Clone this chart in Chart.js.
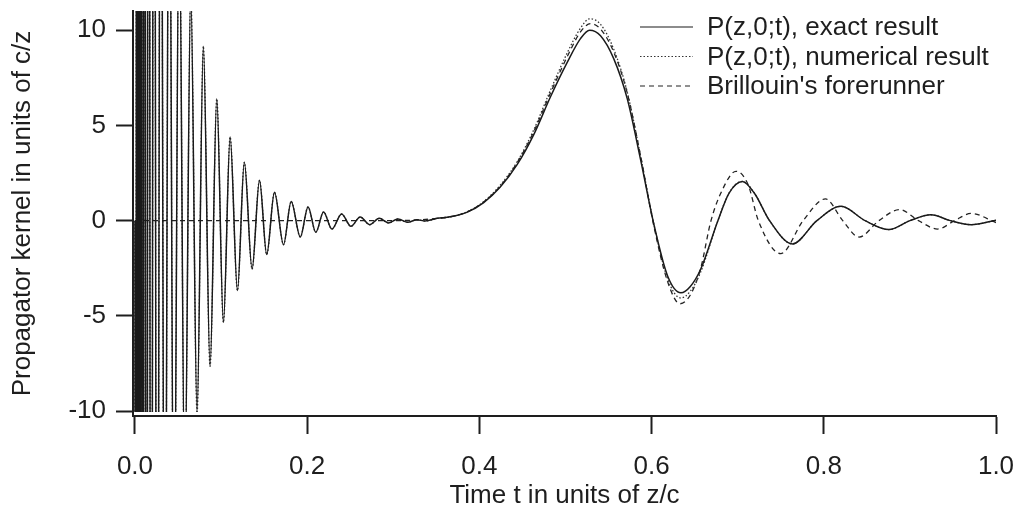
<!DOCTYPE html>
<html>
<head>
<meta charset="utf-8">
<script src="https://cdn.jsdelivr.net/npm/chart.js@4.4.0/dist/chart.umd.min.js"></script>
<style>
  html, body { margin: 0; padding: 0; background: #fff; }
  #wrap { width: 1018px; height: 509px; }
</style>
</head>
<body>
<div id="wrap"><canvas id="chart" width="1018" height="509"></canvas></div>
<script>
// Sommerfeld precursor (early part runs off scale)
const precursorT = [0, 0.00093, 0.00198, 0.00314, 0.00442, 0.00581, 0.00733, 0.00907, 0.01105, 0.01326,
  0.01581, 0.01872, 0.02198, 0.0257, 0.02988, 0.03453, 0.03965, 0.04523, 0.05128, 0.05779,
  0.06477, 0.07209, 0.0794, 0.0872, 0.095, 0.1027, 0.1105, 0.119, 0.127, 0.136,
  0.1446, 0.153, 0.162, 0.1725, 0.1814, 0.192, 0.201, 0.21, 0.219, 0.2287,
  0.240, 0.2508, 0.2616, 0.2725, 0.2837, 0.2946, 0.3055, 0.3167, 0.3275, 0.337];
const precursorP = [0, -150, 150, -140, 130, -120, 110, -98, 85, -73,
  63, -54, 46, -39, 33, -28, 24, -20, 17, -14.3,
  12, -10.1, 9.15, -7.65, 6.39, -5.34, 4.39, -3.67, 3.06, -2.54,
  2.12, -1.78, 1.49, -1.26, 1.01, -0.86, 0.72, -0.61, 0.46, -0.44,
  0.35, -0.3, 0.19, -0.21, 0.12, -0.12, 0.09, -0.09, 0.05, -0.02];

// main pulse and later ringing
const pulseT = [0.351, 0.366, 0.386, 0.405, 0.424, 0.444, 0.463, 0.4826, 0.502, 0.5174,
  0.528, 0.5407, 0.556, 0.5717, 0.5872, 0.6027, 0.6186, 0.634, 0.645, 0.657,
  0.677, 0.69, 0.7055, 0.72, 0.737, 0.7636, 0.792, 0.82, 0.848, 0.8756,
  0.9, 0.9244, 0.947, 0.971, 1.0];
const pulseExact = [0.12, 0.2, 0.45, 0.95, 1.75, 2.95, 4.5, 6.5, 8.3, 9.55,
  9.99, 9.7, 8.5, 6.4, 3.2, -0.2, -2.9, -3.78, -3.45, -2.55,
  0, 1.45, 2.06, 1.4, 0, -1.22, 0, 0.75, 0, -0.47,
  0, 0.31, 0, -0.21, 0.02];
const pulseNumerical = [0.12, 0.2, 0.47, 1.0, 1.85, 3.1, 4.75, 6.85, 8.8, 10.1,
  10.59, 10.3, 9.0, 6.75, 3.4, -0.2, -3.05, -4.06, -3.7, -2.7,
  0, 1.45, 2.06, 1.4, 0, -1.22, 0, 0.75, 0, -0.47,
  0, 0.31, 0, -0.21, 0.02];

// Brillouin's forerunner
const forerunnerT = [0, 0.1, 0.2, 0.3, 0.33, 0.351, 0.366, 0.386, 0.405, 0.424,
  0.444, 0.463, 0.4826, 0.502, 0.5174, 0.529, 0.5407, 0.556, 0.5717, 0.5872,
  0.6027, 0.6186, 0.633, 0.645, 0.657, 0.669, 0.682, 0.698, 0.712, 0.724,
  0.75, 0.776, 0.802, 0.822, 0.841, 0.864, 0.888, 0.91, 0.932, 0.952,
  0.971, 1.0];
const forerunnerP = [0, 0, 0, 0, 0.04, 0.12, 0.2, 0.46, 0.98, 1.8,
  3.05, 4.65, 6.7, 8.6, 9.9, 10.34, 10.05, 8.85, 6.7, 3.4,
  -0.3, -3.2, -4.36, -3.9, -2.5, 0, 1.6, 2.59, 1.9, 0,
  -1.73, 0, 1.14, 0, -0.86, 0, 0.58, 0, -0.44, 0,
  0.38, -0.1];

const xTicks = [0, 0.2, 0.4, 0.6, 0.8, 1.0];
const yTicks = [-10, -5, 0, 5, 10];

function pts(ts, vs) { return ts.map((t, i) => ({ x: t, y: vs[i] })); }

const exactData = pts(precursorT.concat(pulseT), precursorP.concat(pulseExact));
const numericalData = pts(precursorT.concat(pulseT), precursorP.concat(pulseNumerical));
const forerunnerData = pts(forerunnerT, forerunnerP);

const FONT = "'Liberation Sans', Arial, Helvetica, sans-serif";
const INK = '#1e1e1e';
const lineClip = { left: 0, top: 0, right: 0, bottom: -4 };

const legendPlugin = {
  id: 'innerLegend',
  afterDraw(chart) {
    const ctx = chart.ctx;
    ctx.save();
    ctx.font = '26px ' + FONT;
    ctx.fillStyle = INK;
    ctx.textBaseline = 'middle';
    chart.data.datasets.forEach((ds, i) => {
      const y = 27 + i * 29.5;
      ctx.strokeStyle = ds.borderColor;
      ctx.lineWidth = 1.2;
      ctx.setLineDash(ds.borderDash || []);
      ctx.beginPath();
      ctx.moveTo(640, y);
      ctx.lineTo(693, y);
      ctx.stroke();
      ctx.setLineDash([]);
      ctx.fillText(ds.label, 707, y + 1);
    });
    ctx.restore();
  }
};

const chartCtx = document.getElementById('chart').getContext('2d');
new Chart(chartCtx, {
  type: 'line',
  data: {
    datasets: [
      { label: 'P(z,0;t), exact result', data: exactData, borderColor: '#1a1a1a', borderWidth: 1.5,
        pointRadius: 0, cubicInterpolationMode: 'monotone', clip: lineClip },
      { label: 'P(z,0;t), numerical result', data: numericalData, borderColor: '#333', borderWidth: 1.3,
        borderDash: [1.5, 2], pointRadius: 0, cubicInterpolationMode: 'monotone', clip: lineClip },
      { label: "Brillouin's forerunner", data: forerunnerData, borderColor: '#222', borderWidth: 1.3,
        borderDash: [5, 4], pointRadius: 0, cubicInterpolationMode: 'monotone', clip: lineClip }
    ]
  },
  options: {
    responsive: false,
    animation: false,
    devicePixelRatio: 1,
    layout: { padding: { top: 11, right: 22, left: 0, bottom: 0 } },
    plugins: { legend: { display: false }, tooltip: { enabled: false } },
    scales: {
      x: {
        type: 'linear',
        min: -0.0023,
        max: 1.0,
        afterFit(scale) {
          scale.height = 93;
          scale.paddingLeft = 0; scale.paddingRight = 0;
        },
        afterBuildTicks(scale) { scale.ticks = xTicks.map(v => ({ value: v })); },
        border: { display: true, color: INK, width: 2 },
        grid: { drawOnChartArea: false, drawTicks: true, tickLength: 18, tickWidth: 2, tickColor: INK },
        ticks: { color: INK, font: { family: FONT, size: 26 }, padding: 17,
          callback: v => v.toFixed(1), maxRotation: 0, autoSkip: false },
        title: { display: true, text: 'Time t in units of z/c', color: INK,
          font: { family: FONT, size: 26, lineHeight: 1 }, padding: { top: 0, bottom: 0 } }
      },
      y: {
        type: 'linear',
        min: -10.25,
        max: 11,
        afterFit(scale) {
          scale.width = 133;
          scale.paddingTop = 0; scale.paddingBottom = 0;
        },
        afterBuildTicks(scale) { scale.ticks = yTicks.map(v => ({ value: v })); },
        border: { display: true, color: INK, width: 2 },
        grid: { drawOnChartArea: false, drawTicks: true, tickLength: 17, tickWidth: 2, tickColor: INK },
        ticks: { color: INK, font: { family: FONT, size: 26 }, padding: 10 },
        title: { display: true, text: 'Propagator kernel in units of c/z', color: INK,
          font: { family: FONT, size: 26 }, padding: { top: 7, bottom: 0 } }
      }
    }
  },
  plugins: [legendPlugin]
});
</script>
</body>
</html>
